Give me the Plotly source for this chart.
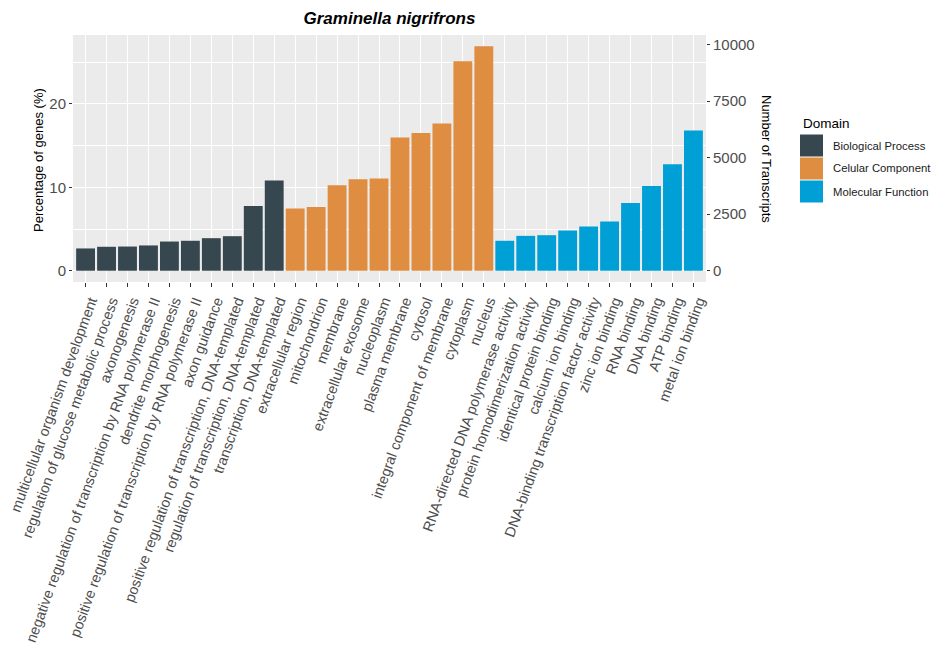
import plotly.graph_objects as go

# GO terms per domain, ordered by increasing share of genes
bp_terms = [
    "multicellular organism development",
    "regulation of glucose metabolic process",
    "axonogenesis",
    "negative regulation of transcription by RNA polymerase II",
    "dendrite morphogenesis",
    "positive regulation of transcription by RNA polymerase II",
    "axon guidance",
    "positive regulation of transcription, DNA-templated",
    "regulation of transcription, DNA-templated",
    "transcription, DNA-templated",
]
bp_pct = [2.67, 2.87, 2.90, 3.03, 3.50, 3.59, 3.90, 4.14, 7.77, 10.80]

cc_terms = [
    "extracellular region",
    "mitochondrion",
    "membrane",
    "extracellular exosome",
    "nucleoplasm",
    "plasma membrane",
    "cytosol",
    "integral component of membrane",
    "cytoplasm",
    "nucleus",
]
cc_pct = [7.45, 7.65, 10.24, 10.96, 11.04, 15.98, 16.50, 17.65, 25.10, 26.90]

mf_terms = [
    "RNA-directed DNA polymerase activity",
    "protein homodimerization activity",
    "identical protein binding",
    "calcium ion binding",
    "DNA-binding transcription factor activity",
    "zinc ion binding",
    "RNA binding",
    "DNA binding",
    "ATP binding",
    "metal ion binding",
]
mf_pct = [3.59, 4.18, 4.26, 4.82, 5.30, 5.90, 8.13, 10.16, 12.75, 16.80]

domain_names = ["Biological Process", "Celular Component", "Molecular Function"]
domain_colors = ["#36474F", "#DF8D40", "#009FD5"]

# transcripts corresponding to 100 % of genes (secondary axis scaling)
total_transcripts = 36910
pct_ticks = [0, 10, 20]
transcript_ticks = [0, 2500, 5000, 7500, 10000]

all_terms = bp_terms + cc_terms + mf_terms

# plot-area geometry in pixels
W, H = 933, 645
L, R, T, B = 73, 227, 35, 363
PW, PH = W - L - R, H - T - B


def px_x(px):
    return (px - L) / PW


def px_y(py):
    return (H - B - py) / PH


font_family = "Liberation Sans, Arial, Helvetica, sans-serif"

fig = go.Figure()
for terms, vals, name, color in zip(
    [bp_terms, cc_terms, mf_terms],
    [bp_pct, cc_pct, mf_pct],
    domain_names,
    domain_colors,
):
    fig.add_trace(go.Bar(
        x=terms, y=vals, name=name, width=0.9,
        marker=dict(color=color, line=dict(width=0)),
        showlegend=False,
    ))

# empty trace so the secondary axis is drawn
fig.add_trace(go.Scatter(x=[all_terms[0]], y=[None], yaxis="y2",
                         showlegend=False, hoverinfo="skip"))

y_lo, y_hi = -1.35, 28.25

fig.update_layout(
    width=W, height=H,
    margin=dict(l=L, r=R, t=T, b=B, autoexpand=False),
    paper_bgcolor="white",
    plot_bgcolor="#EBEBEB",
    barmode="overlay",
    font=dict(family=font_family, color="#4D4D4D", size=13),
    title=dict(
        text="<b><i>Graminella nigrifrons</i></b>",
        x=0.5, xref="paper", xanchor="center",
        y=1 - 18 / H, yref="container", yanchor="middle",
        font=dict(size=17, color="black", family=font_family),
    ),
    xaxis=dict(
        categoryorder="array", categoryarray=all_terms,
        range=[-0.6, len(all_terms) - 0.4],
        showgrid=True, gridcolor="white", gridwidth=1.1,
        ticks="outside", ticklen=4, tickwidth=1, tickcolor="#333333",
        tickangle=-70, tickfont=dict(size=14.5, color="#4D4D4D"),
        ticklabelshift=5, ticklabelstandoff=0,
        zeroline=False, showline=False, automargin=False,
    ),
    yaxis=dict(
        range=[y_lo, y_hi], tickvals=pct_ticks,
        showgrid=True, gridcolor="white", gridwidth=1.1,
        minor=dict(dtick=5, tick0=0, showgrid=True, gridcolor="white",
                   gridwidth=0.55, ticks=""),
        ticks="outside", ticklen=3, tickwidth=1, tickcolor="#333333",
        tickfont=dict(size=15, color="#4D4D4D"),
        zeroline=False, showline=False, automargin=False,
    ),
    yaxis2=dict(
        overlaying="y", side="right", anchor="x",
        range=[y_lo * total_transcripts / 100, y_hi * total_transcripts / 100],
        tickvals=transcript_ticks,
        ticktext=[str(v) for v in transcript_ticks],
        showgrid=False, zeroline=False, showline=False,
        ticks="outside", ticklen=3, tickwidth=1, tickcolor="#333333",
        tickfont=dict(size=15, color="#4D4D4D"),
        automargin=False,
    ),
)

annotations = [
    dict(text="Percentage of genes (%)", x=px_x(38), y=px_y(160),
         xref="paper", yref="paper", showarrow=False, textangle=-90,
         xanchor="center", yanchor="middle",
         font=dict(size=13, color="black")),
    dict(text="Number of Transcripts", x=px_x(767), y=px_y(159),
         xref="paper", yref="paper", showarrow=False, textangle=90,
         xanchor="center", yanchor="middle",
         font=dict(size=13, color="black")),
    dict(text="Domain", x=px_x(801), y=px_y(123),
         xref="paper", yref="paper", showarrow=False,
         xanchor="left", yanchor="middle",
         font=dict(size=13.5, color="black")),
]

# legend keys drawn as filled squares with labels
shapes = []
key_top = 134
key_h = 23
for i, (name, color) in enumerate(zip(domain_names, domain_colors)):
    y0 = key_top + i * key_h
    shapes.append(dict(
        type="rect", xref="paper", yref="paper",
        x0=px_x(800), x1=px_x(823), y0=px_y(y0 + 0.5), y1=px_y(y0 + key_h - 0.5),
        fillcolor=color, line=dict(width=0), layer="above",
    ))
    annotations.append(dict(
        text=name, x=px_x(831), y=px_y(y0 + key_h / 2),
        xref="paper", yref="paper", showarrow=False,
        xanchor="left", yanchor="middle",
        font=dict(size=11.3, color="#1A1A1A"),
    ))

fig.update_layout(annotations=annotations, shapes=shapes)

fig.write_html("out.html")
